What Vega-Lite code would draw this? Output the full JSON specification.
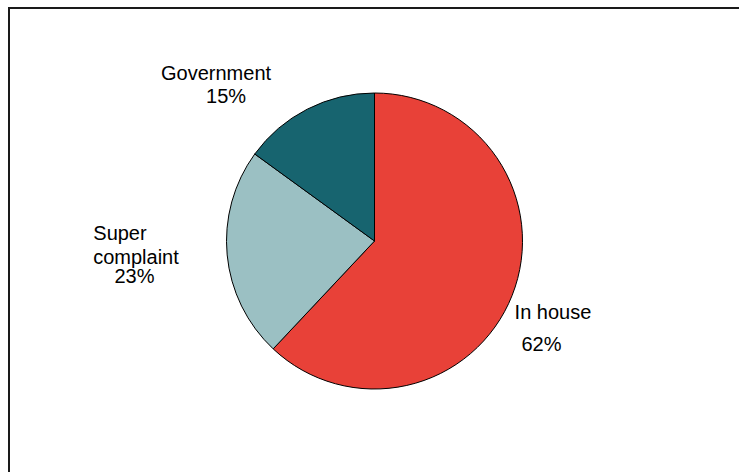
{
  "$schema": "https://vega.github.io/schema/vega-lite/v6.json",
  "width": 731,
  "height": 466,
  "padding": {"left": 9, "top": 7, "right": 0, "bottom": 0},
  "background": "white",
  "view": {"stroke": "#1a1a1a", "strokeWidth": 2},
  "config": {"view": {"stroke": "#1a1a1a", "strokeWidth": 2}, "style": {"view": {"stroke": "#1a1a1a", "strokeWidth": 2}}},
  "data": {
    "values": [
      {"category": "In house", "share": 0.62, "idx": 1},
      {"category": "Super complaint", "share": 0.23, "idx": 2},
      {"category": "Government", "share": 0.15, "idx": 3}
    ]
  },
  "encoding": {
    "theta": {"field": "share", "type": "quantitative", "stack": true},
    "order": {"field": "idx", "type": "quantitative"},
    "detail": {"field": "category", "type": "nominal"}
  },
  "layer": [
    {
      "mark": {"type": "arc", "outerRadius": 148, "stroke": "#000000", "strokeWidth": 1},
      "encoding": {
        "color": {
          "field": "category",
          "type": "nominal",
          "scale": {"domain": ["In house", "Super complaint", "Government"], "range": ["#E84138", "#9BC0C3", "#17646F"]},
          "legend": null
        }
      }
    },
    {
      "mark": {"type": "text", "radius": 175, "dx": -79, "dy": -5, "fontSize": 20, "font": "Liberation Sans", "baseline": "alphabetic", "align": "center", "color": "#000000"},
      "encoding": {"text": {"condition": {"test": "datum.category === 'Government'", "field": "category"}, "value": ""}}
    },
    {
      "mark": {"type": "text", "radius": 175, "dx": -69, "dy": 17.6, "fontSize": 20, "font": "Liberation Sans", "baseline": "alphabetic", "align": "center", "color": "#000000"},
      "encoding": {"text": {"condition": {"test": "datum.category === 'Government'", "field": "share", "type": "quantitative", "format": ".0%"}, "value": ""}}
    },
    {
      "mark": {"type": "text", "radius": 220, "dx": -35.5, "dy": -21.7, "fontSize": 20, "font": "Liberation Sans", "baseline": "alphabetic", "align": "center", "color": "#000000"},
      "encoding": {"text": {"condition": {"test": "datum.category === 'Super complaint'", "value": "Super"}, "value": ""}}
    },
    {
      "mark": {"type": "text", "radius": 220, "dx": -19.5, "dy": 2.3, "fontSize": 20, "font": "Liberation Sans", "baseline": "alphabetic", "align": "center", "color": "#000000"},
      "encoding": {"text": {"condition": {"test": "datum.category === 'Super complaint'", "value": "complaint"}, "value": ""}}
    },
    {
      "mark": {"type": "text", "radius": 220, "dx": -21, "dy": 21.3, "fontSize": 20, "font": "Liberation Sans", "baseline": "alphabetic", "align": "center", "color": "#000000"},
      "encoding": {"text": {"condition": {"test": "datum.category === 'Super complaint'", "field": "share", "type": "quantitative", "format": ".0%"}, "value": ""}}
    },
    {
      "mark": {"type": "text", "radius": 190, "dx": 1.8, "dy": 8.1, "fontSize": 20, "font": "Liberation Sans", "baseline": "alphabetic", "align": "center", "color": "#000000"},
      "encoding": {"text": {"condition": {"test": "datum.category === 'In house'", "field": "category"}, "value": ""}}
    },
    {
      "mark": {"type": "text", "radius": 190, "dx": -9.7, "dy": 40.1, "fontSize": 20, "font": "Liberation Sans", "baseline": "alphabetic", "align": "center", "color": "#000000"},
      "encoding": {"text": {"condition": {"test": "datum.category === 'In house'", "field": "share", "type": "quantitative", "format": ".0%"}, "value": ""}}
    }
  ]
}
